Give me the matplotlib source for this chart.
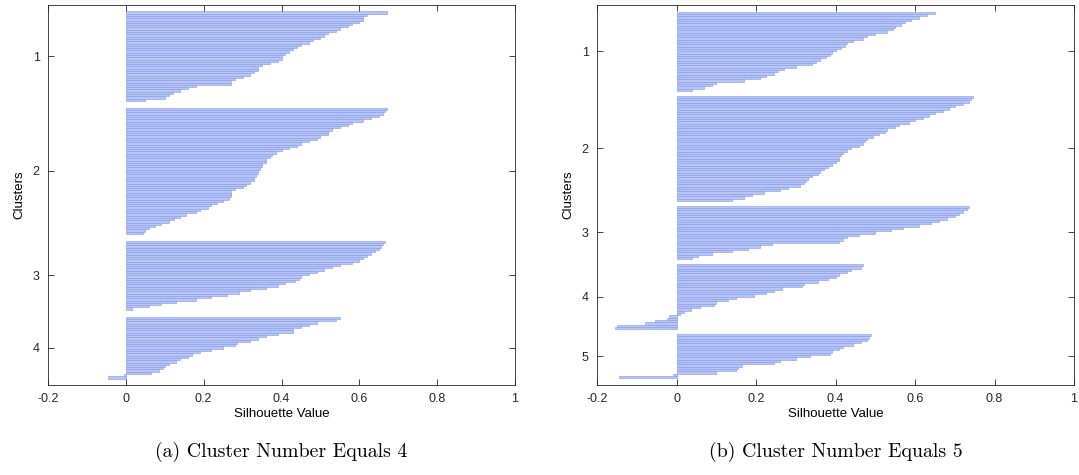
import numpy as np
import matplotlib
matplotlib.use('Agg')
import matplotlib.pyplot as plt

# silhouette values per cluster, sorted high to low (k = 4)
sil_k4 = [
    [0.67, 0.62, 0.61, 0.61, 0.60, 0.58, 0.57, 0.55, 0.54, 0.52, 0.51, 0.50, 0.48,
     0.47, 0.45, 0.44, 0.43, 0.42, 0.41, 0.40, 0.40, 0.39, 0.37, 0.35, 0.34, 0.34,
     0.33, 0.32, 0.30, 0.28, 0.27, 0.27, 0.18, 0.16, 0.14, 0.12, 0.11, 0.10, 0.05],
    [0.67, 0.665, 0.66, 0.65, 0.63, 0.61, 0.58, 0.57, 0.55, 0.53, 0.52, 0.52, 0.50,
     0.49, 0.47, 0.45, 0.44, 0.42, 0.40, 0.385, 0.375, 0.37, 0.36, 0.36, 0.35, 0.35,
     0.345, 0.34, 0.34, 0.335, 0.33, 0.33, 0.32, 0.31, 0.30, 0.28, 0.27, 0.27, 0.27,
     0.265, 0.25, 0.235, 0.22, 0.21, 0.19, 0.18, 0.155, 0.14, 0.125, 0.11, 0.09,
     0.075, 0.06, 0.05, 0.045],
    [0.665, 0.66, 0.655, 0.65, 0.64, 0.63, 0.62, 0.61, 0.60, 0.58, 0.55, 0.53, 0.51,
     0.49, 0.47, 0.45, 0.445, 0.435, 0.41, 0.39, 0.36, 0.32, 0.29, 0.26, 0.22, 0.18,
     0.13, 0.09, 0.06, 0.015],
    [0.55, 0.54, 0.49, 0.47, 0.45, 0.43, 0.43, 0.39, 0.36, 0.34, 0.32, 0.285, 0.28,
     0.25, 0.22, 0.19, 0.17, 0.16, 0.14, 0.13, 0.11, 0.10, 0.095, 0.085, 0.065,
     -0.005, -0.045],
]

# k = 5
sil_k5 = [
    [0.65, 0.63, 0.61, 0.59, 0.575, 0.565, 0.55, 0.545, 0.53, 0.50, 0.48, 0.47, 0.445,
     0.43, 0.425, 0.415, 0.40, 0.39, 0.385, 0.375, 0.36, 0.35, 0.34, 0.30, 0.27,
     0.255, 0.245, 0.225, 0.21, 0.17, 0.10, 0.09, 0.07, 0.04],
    [0.745, 0.74, 0.735, 0.72, 0.70, 0.685, 0.67, 0.65, 0.635, 0.62, 0.60, 0.585, 0.56,
     0.55, 0.53, 0.525, 0.51, 0.495, 0.48, 0.475, 0.47, 0.46, 0.44, 0.43, 0.42, 0.415,
     0.41, 0.41, 0.40, 0.39, 0.38, 0.37, 0.36, 0.355, 0.34, 0.33, 0.325, 0.32, 0.31,
     0.28, 0.26, 0.22, 0.19, 0.17, 0.14],
    [0.735, 0.73, 0.72, 0.71, 0.70, 0.68, 0.66, 0.64, 0.61, 0.57, 0.54, 0.50, 0.46,
     0.43, 0.42, 0.41, 0.24, 0.21, 0.18, 0.14, 0.09, 0.055, 0.04],
    [0.47, 0.465, 0.44, 0.43, 0.41, 0.40, 0.38, 0.355, 0.32, 0.315, 0.265, 0.245, 0.225,
     0.195, 0.15, 0.13, 0.10, 0.095, 0.058, 0.037, 0.02, 0.008, -0.02, -0.025, -0.055,
     -0.08, -0.15, -0.155],
    [0.49, 0.485, 0.48, 0.465, 0.445, 0.42, 0.41, 0.39, 0.385, 0.335, 0.30, 0.26, 0.245,
     0.165, 0.155, 0.15, 0.10, -0.01, -0.145],
]

captions = ['(a) Cluster Number Equals 4', '(b) Cluster Number Equals 5']
x_ticks = [-0.2, 0, 0.2, 0.4, 0.6, 0.8, 1]
x_ticklabels = ['-0.2', '0', '0.2', '0.4', '0.6', '0.8', '1']

BAR_FACE = '#b8c5f5'
BAR_EDGE = '#7f99ec'
AX_COLOR = '#262626'


def silhouette_axes(ax, clusters):
    n = sum(len(c) for c in clusters)
    space = max(int(0.02 * n), 2)
    pos = space
    tick_pos = []
    for vals in clusters:
        y = pos + np.arange(len(vals))
        ax.barh(y, vals, height=1.0, left=0, color=BAR_FACE,
                edgecolor=BAR_EDGE, linewidth=0.4)
        tick_pos.append(y.mean())
        pos += len(vals) + space
    ax.set_ylim(pos - space + 2.3, space - 3.3)
    ax.set_xlim(-0.2, 1)
    ax.set_xticks(x_ticks)
    ax.set_xticklabels(x_ticklabels)
    ax.set_yticks(tick_pos)
    ax.set_yticklabels([str(i + 1) for i in range(len(clusters))])
    ax.tick_params(direction='in', length=4, width=0.6, top=True, right=True,
                   labelsize=9, colors=AX_COLOR, pad=6)
    for s in ax.spines.values():
        s.set_color(AX_COLOR)
        s.set_linewidth(0.6)
    ax.set_xlabel('Silhouette Value', fontsize=9.5, labelpad=2)
    ax.set_ylabel('Clusters', fontsize=9.5, labelpad=5)


def main():
    plt.rcParams['font.family'] = ['Liberation Sans', 'DejaVu Sans']
    W, H = 1079, 475
    fig = plt.figure(figsize=(W / 100, H / 100), dpi=100)
    boxes = [(48, 5, 515, 385), (597, 5, 1074, 385)]
    for (x0, y0, x1, y1), data, cap in zip(boxes, [sil_k4, sil_k5], captions):
        ax = fig.add_axes([x0 / W, 1 - y1 / H, (x1 - x0) / W, (y1 - y0) / H])
        silhouette_axes(ax, data)
        fig.text((x0 + x1) / 2 / W, 1 - 452 / H, cap, ha='center', va='center',
                 fontsize=14.3, family='cmr10')
    fig.savefig('out.png', dpi=100)
    plt.close(fig)


if __name__ == '__main__':
    main()
